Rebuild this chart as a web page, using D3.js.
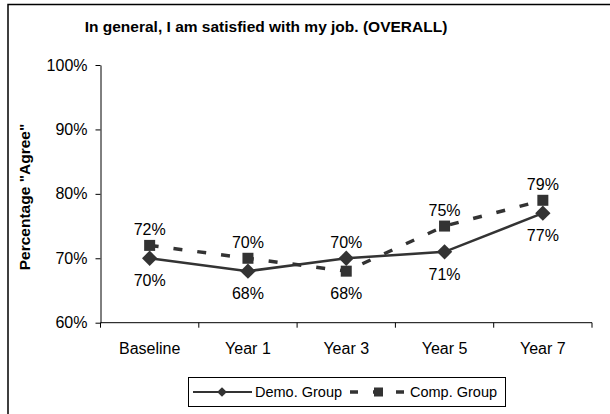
<!DOCTYPE html>
<html>
<head>
<meta charset="utf-8">
<script src="https://cdn.jsdelivr.net/npm/d3@7"></script>
<style>
  html, body { margin: 0; padding: 0; background: #fff; }
  svg { display: block; font-family: "Liberation Sans", Arial, sans-serif; }
</style>
</head>
<body>
<svg id="chart" width="610" height="414"></svg>
<script>
// Survey waves and "Agree" percentages for each group
const categories = ["Baseline", "Year 1", "Year 3", "Year 5", "Year 7"];
const demoValues = [70, 68, 70, 71, 77];
const compValues = [72, 70, 68, 75, 79];
const yTicks = [60, 70, 80, 90, 100];
const seriesNames = ["Demo. Group", "Comp. Group"];

const svg = d3.select("#chart");
const ink = "#333333";

// Outer frame (top and left edges)
svg.append("path")
  .attr("d", "M8,414 V4.5 H610")
  .attr("fill", "none").attr("stroke", "#000").attr("stroke-width", 1.5);

const plot = { left: 100.5, right: 592, top: 65, bottom: 322.7 };

const x = d3.scaleBand().domain(categories).range([plot.left, plot.right]);
const y = d3.scaleLinear().domain([60, 100]).range([plot.bottom, plot.top]);
const cx = c => x(c) + x.bandwidth() / 2;

// Title
svg.append("text")
  .attr("x", 266).attr("y", 32)
  .attr("text-anchor", "middle")
  .attr("font-weight", "bold").attr("font-size", 15.5)
  .text("In general, I am satisfied with my job. (OVERALL)");

// Y axis title
svg.append("text")
  .attr("transform", "translate(30,197) rotate(-90)")
  .attr("text-anchor", "middle")
  .attr("font-weight", "bold").attr("font-size", 15.5)
  .text('Percentage "Agree"');

// Y axis
const yAxis = svg.append("g")
  .attr("transform", `translate(${plot.left},0)`)
  .call(d3.axisLeft(y).tickValues(yTicks).tickSize(5).tickSizeOuter(0)
    .tickFormat(d => d + "%"));
yAxis.select(".domain").attr("stroke", "#000");
yAxis.selectAll(".tick line").attr("stroke", "#000");
yAxis.selectAll(".tick text")
  .attr("font-size", 16).attr("fill", "#000").attr("x", -13)
  .attr("font-family", "Liberation Sans, Arial, sans-serif");

// X axis with ticks at band boundaries
const xAxis = svg.append("g").attr("transform", `translate(0,${plot.bottom})`);
xAxis.append("line")
  .attr("x1", plot.left).attr("x2", plot.right).attr("stroke", "#000");
xAxis.selectAll("line.tk")
  .data(categories.map(c => x(c)).concat([plot.right]))
  .join("line").attr("class", "tk")
  .attr("x1", d => d).attr("x2", d => d)
  .attr("y1", 0).attr("y2", 5).attr("stroke", "#000");
xAxis.selectAll("text")
  .data(categories).join("text")
  .attr("x", d => cx(d)).attr("y", 31)
  .attr("text-anchor", "middle").attr("font-size", 16)
  .text(d => d);

// Series lines
const line = d3.line().x((d, i) => cx(categories[i])).y(d => y(d));
svg.append("path").datum(compValues)
  .attr("d", line).attr("fill", "none")
  .attr("stroke", ink).attr("stroke-width", 3.5)
  .attr("stroke-dasharray", "9,15");
svg.append("path").datum(demoValues)
  .attr("d", line).attr("fill", "none")
  .attr("stroke", ink).attr("stroke-width", 2.5);

// Markers
const diamond = d3.symbol().type(d3.symbolDiamond2).size(150);
svg.selectAll("rect.comp").data(compValues).join("rect").attr("class", "comp")
  .attr("x", (d, i) => cx(categories[i]) - 5.5).attr("y", d => y(d) - 5.5)
  .attr("width", 11).attr("height", 11).attr("fill", ink);
svg.selectAll("path.demo").data(demoValues).join("path").attr("class", "demo")
  .attr("transform", (d, i) => `translate(${cx(categories[i])},${y(d)})`)
  .attr("d", diamond).attr("fill", ink);

// Value labels: higher value above its marker, lower one below
function addLabels(vals, other) {
  svg.append("g").selectAll("text").data(vals).join("text")
    .attr("x", (d, i) => cx(categories[i]))
    .attr("y", (d, i) => d >= other[i] ? y(d) - 10 : y(d) + 28)
    .attr("text-anchor", "middle").attr("font-size", 16)
    .text(d => d + "%");
}
addLabels(compValues, demoValues);
addLabels(demoValues, compValues);

// Legend
const lg = svg.append("g");
lg.append("rect").attr("x", 188.5).attr("y", 377.5)
  .attr("width", 317).attr("height", 29)
  .attr("fill", "#fff").attr("stroke", "#000");
const ly = 392;
lg.append("line").attr("x1", 193).attr("x2", 252).attr("y1", ly).attr("y2", ly)
  .attr("stroke", ink).attr("stroke-width", 2);
lg.append("path").attr("transform", `translate(222,${ly})`)
  .attr("d", d3.symbol().type(d3.symbolDiamond2).size(60)).attr("fill", ink);
lg.append("text").attr("x", 255).attr("y", ly + 5).attr("font-size", 14.5)
  .text(seriesNames[0]);
lg.append("line").attr("x1", 350).attr("x2", 408).attr("y1", ly).attr("y2", ly)
  .attr("stroke", ink).attr("stroke-width", 3.5)
  .attr("stroke-dasharray", "8,15");
lg.append("rect").attr("x", 374).attr("y", ly - 4.5).attr("width", 9).attr("height", 9)
  .attr("fill", ink);
lg.append("text").attr("x", 410).attr("y", ly + 5).attr("font-size", 14.5)
  .text(seriesNames[1]);
</script>
</body>
</html>
